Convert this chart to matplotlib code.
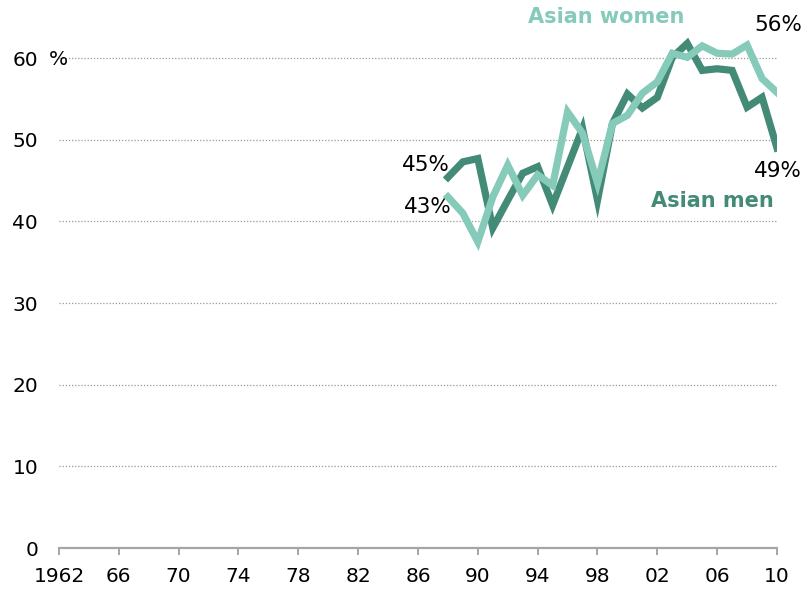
import matplotlib.pyplot as plt

years = list(range(1988, 2011))
men = [45.4, 47.3, 47.7, 39.2, 42.6, 45.9, 46.7, 42.0, 46.7, 51.4, 42.6, 52.0,
       55.6, 53.9, 55.2, 60.1, 61.8, 58.5, 58.7, 58.5, 54.0, 55.2, 49.0]
women = [43.0, 41.0, 37.5, 43.0, 46.9, 43.2, 45.7, 44.4, 53.4, 50.8, 44.7, 52.0,
         53.0, 55.7, 57.1, 60.6, 60.1, 61.5, 60.6, 60.5, 61.6, 57.5, 55.8]

xticks = list(range(1962, 2011, 4))
xtick_labels = ["1962", "66", "70", "74", "78", "82", "86", "90", "94", "98", "02", "06", "10"]
yticks = [0, 10, 20, 30, 40, 50, 60]

men_color = "#438a77"
women_color = "#86cab9"

fig = plt.figure(figsize=(8.06, 5.91), dpi=100)
ax = fig.add_axes([59 / 806, 43 / 591, 718 / 806, 547 / 591])

ax.plot(years, men, color=men_color, lw=5.2, solid_joinstyle="miter", zorder=3)
ax.plot(years, women, color=women_color, lw=5.2, solid_joinstyle="miter", zorder=4)

ax.set_xlim(1962, 2010)
ax.set_ylim(0, 67)

# dotted gridlines
for y in yticks[1:]:
    ax.axhline(y, color="#999999", lw=0.9, ls=(0, (1, 1.5)), zorder=1)

for s in ["top", "right", "left"]:
    ax.spines[s].set_visible(False)
ax.spines["bottom"].set_color("#a6a6a6")
ax.spines["bottom"].set_linewidth(1.6)

ax.set_xticks(xticks)
ax.set_xticklabels(xtick_labels, fontsize=14.5)
ax.tick_params(axis="x", direction="out", length=5, width=1.4, color="#a6a6a6", pad=9)

ax.set_yticks(yticks)
ax.set_yticklabels([str(v) for v in yticks], fontsize=14.5)
ax.tick_params(axis="y", length=0, pad=15)
ax.text(-10 / 718, 59.8, "%", transform=ax.get_yaxis_transform(), fontsize=14.5,
        ha="left", va="center")

# series labels
ax.text(1998.6, 65.0, "Asian women", color=women_color, fontsize=15,
        fontweight="bold", ha="center", va="center")
ax.text(2005.66, 42.5, "Asian men", color=men_color, fontsize=15,
        fontweight="bold", ha="center", va="center")

# value labels
ax.text(1988.15, 46.9, "45%", fontsize=15.5, ha="right", va="center")
ax.text(1988.25, 41.75, "43%", fontsize=15.5, ha="right", va="center")
ax.text(2008.5, 64.0, "56%", fontsize=15.5, ha="left", va="center")
ax.text(2008.45, 46.2, "49%", fontsize=15.5, ha="left", va="center")

fig.savefig("out.png", dpi=100)
